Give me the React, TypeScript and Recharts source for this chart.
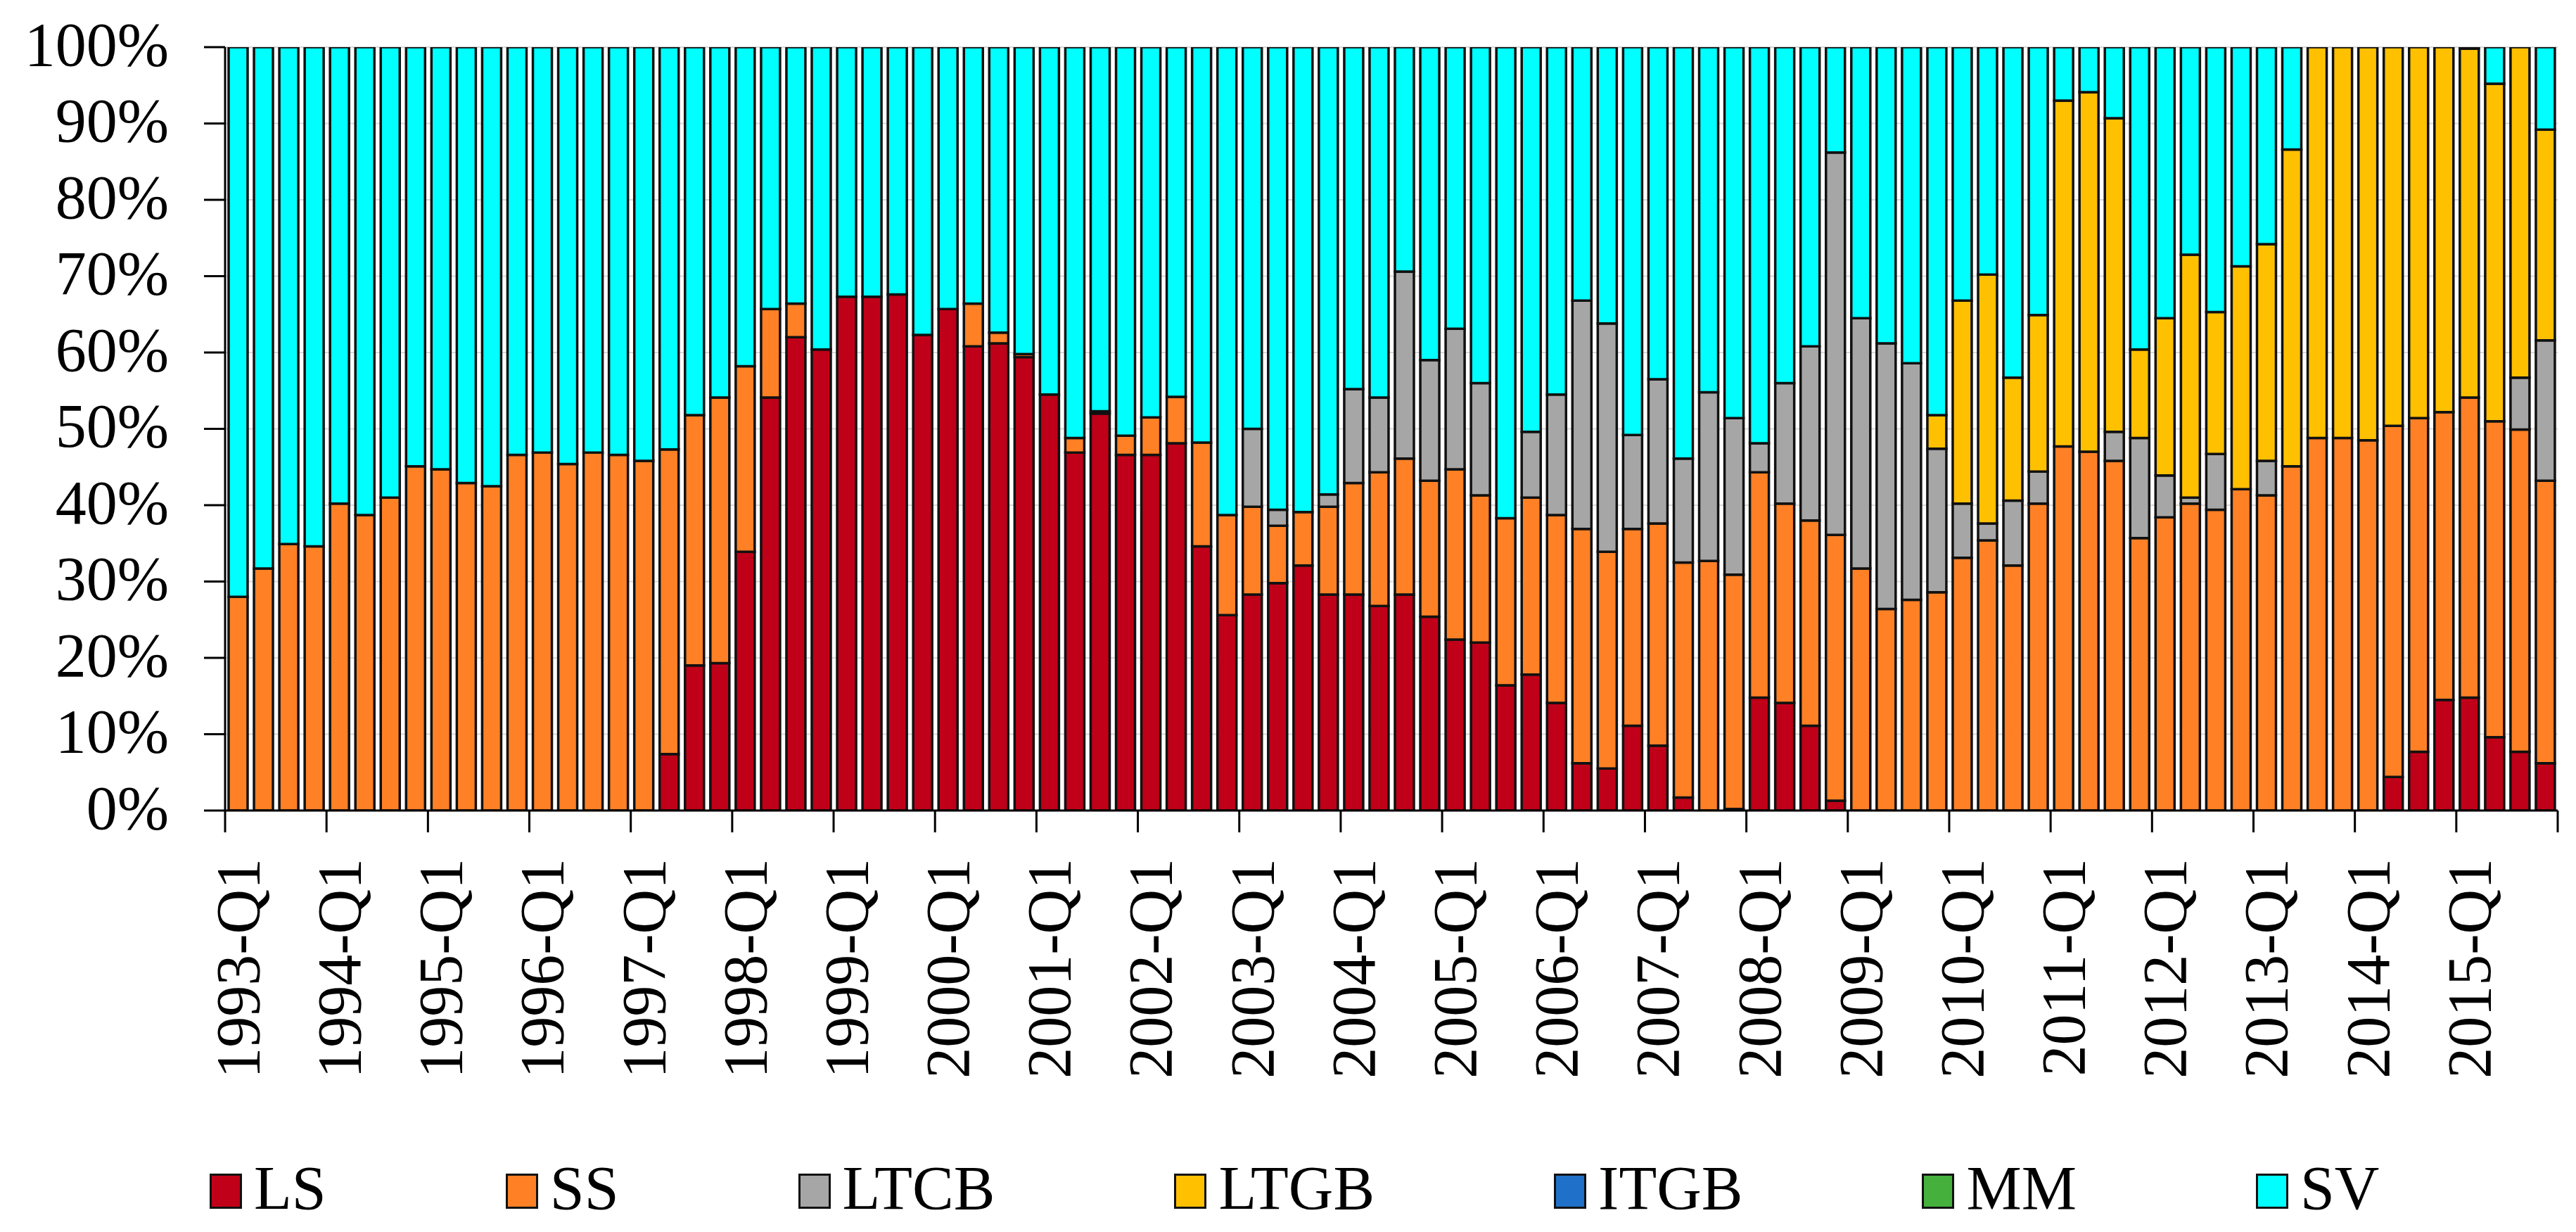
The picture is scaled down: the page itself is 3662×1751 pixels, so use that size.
import React from 'react';
import { BarChart, Bar, XAxis, YAxis, CartesianGrid, Legend } from 'recharts';

const QUARTERS = [
  '1993-Q1', '1993-Q2', '1993-Q3', '1993-Q4',
  '1994-Q1', '1994-Q2', '1994-Q3', '1994-Q4',
  '1995-Q1', '1995-Q2', '1995-Q3', '1995-Q4',
  '1996-Q1', '1996-Q2', '1996-Q3', '1996-Q4',
  '1997-Q1', '1997-Q2', '1997-Q3', '1997-Q4',
  '1998-Q1', '1998-Q2', '1998-Q3', '1998-Q4',
  '1999-Q1', '1999-Q2', '1999-Q3', '1999-Q4',
  '2000-Q1', '2000-Q2', '2000-Q3', '2000-Q4',
  '2001-Q1', '2001-Q2', '2001-Q3', '2001-Q4',
  '2002-Q1', '2002-Q2', '2002-Q3', '2002-Q4',
  '2003-Q1', '2003-Q2', '2003-Q3', '2003-Q4',
  '2004-Q1', '2004-Q2', '2004-Q3', '2004-Q4',
  '2005-Q1', '2005-Q2', '2005-Q3', '2005-Q4',
  '2006-Q1', '2006-Q2', '2006-Q3', '2006-Q4',
  '2007-Q1', '2007-Q2', '2007-Q3', '2007-Q4',
  '2008-Q1', '2008-Q2', '2008-Q3', '2008-Q4',
  '2009-Q1', '2009-Q2', '2009-Q3', '2009-Q4',
  '2010-Q1', '2010-Q2', '2010-Q3', '2010-Q4',
  '2011-Q1', '2011-Q2', '2011-Q3', '2011-Q4',
  '2012-Q1', '2012-Q2', '2012-Q3', '2012-Q4',
  '2013-Q1', '2013-Q2', '2013-Q3', '2013-Q4',
  '2014-Q1', '2014-Q2', '2014-Q3', '2014-Q4',
  '2015-Q1', '2015-Q2', '2015-Q3', '2015-Q4',
];

const LS = [
  0, 0, 0, 0, 0, 0, 0, 0, 0, 0, 0, 0, 0, 0, 0, 0,
  0, 7.4, 19.0, 19.3,
  33.9, 54.1, 62.0, 60.4,
  67.3, 67.3, 67.6, 62.3,
  65.7, 60.8, 61.2, 59.4,
  54.5, 46.9, 52.0, 46.6,
  46.6, 48.1, 34.6, 25.6,
  28.3, 29.8, 32.1, 28.3,
  28.3, 26.8, 28.3, 25.4,
  22.4, 22.0, 16.4, 17.8,
  14.1, 6.2, 5.5, 11.1,
  8.5, 1.7, 0, 0.2,
  14.8, 14.1, 11.1, 1.3,
  0, 0, 0, 0,
  0, 0, 0, 0,
  0, 0, 0, 0,
  0, 0, 0, 0,
  0, 0, 0, 0,
  0, 4.4, 7.7, 14.5,
  14.8, 9.6, 7.7, 6.2,
];

const SS = [
  28.0, 31.7, 34.9, 34.6,
  40.2, 38.7, 41.0, 45.1,
  44.7, 42.9, 42.5, 46.6,
  46.9, 45.4, 46.9, 46.6,
  45.8, 39.9, 32.8, 34.8,
  24.3, 11.6, 4.4, 0,
  0, 0, 0, 0,
  0, 5.6, 1.4, 0.4,
  0, 1.9, 0.3, 2.5,
  4.9, 6.1, 13.6, 13.1,
  11.5, 7.5, 7.0, 11.5,
  14.6, 17.5, 17.8, 17.8,
  22.3, 19.3, 21.9, 23.2,
  24.6, 30.7, 28.4, 25.8,
  29.1, 30.8, 32.7, 30.7,
  29.5, 26.1, 26.9, 34.8,
  31.7, 26.4, 27.6, 28.6,
  33.1, 35.4, 32.1, 40.2,
  47.7, 47.0, 45.8, 35.7,
  38.4, 40.2, 39.4, 42.1,
  41.3, 45.1, 48.8, 48.8,
  48.5, 46.0, 43.7, 37.7,
  39.3, 41.4, 42.2, 37.0,
];

const LTCB = [
  0, 0, 0, 0, 0, 0, 0, 0, 0, 0, 0, 0, 0, 0, 0, 0, 0, 0, 0, 0,
  0, 0, 0, 0, 0, 0, 0, 0, 0, 0, 0, 0, 0, 0, 0, 0, 0, 0, 0, 0,
  10.2, 2.1, 0, 1.6,
  12.3, 9.8, 24.5, 15.8,
  18.4, 14.7, 0, 8.6,
  15.8, 29.9, 29.9, 12.3,
  18.9, 13.6, 22.1, 20.5,
  3.8, 15.8, 22.8, 50.1,
  32.8, 34.8, 31.0, 18.8,
  7.1, 2.2, 8.5, 4.2,
  0, 0, 3.8, 13.1,
  5.5, 0.8, 7.3, 0,
  4.5, 0, 0, 0,
  0, 0, 0, 0,
  0, 0, 6.8, 18.4,
];

const LTGB = [
  0, 0, 0, 0, 0, 0, 0, 0, 0, 0, 0, 0, 0, 0, 0, 0, 0, 0, 0, 0,
  0, 0, 0, 0, 0, 0, 0, 0, 0, 0, 0, 0, 0, 0, 0, 0, 0, 0, 0, 0,
  0, 0, 0, 0, 0, 0, 0, 0, 0, 0, 0, 0, 0, 0, 0, 0, 0, 0, 0, 0,
  0, 0, 0, 0, 0, 0, 0, 4.4,
  26.6, 32.6, 16.1, 20.5,
  45.3, 47.1, 41.1, 11.6,
  20.6, 31.8, 18.6, 29.2,
  28.4, 41.5, 51.2, 51.2,
  51.5, 49.6, 48.6, 47.8,
  45.7, 44.2, 43.3, 27.6,
];

const ITGB = [
  0, 0, 0, 0, 0, 0, 0, 0, 0, 0, 0, 0, 0, 0, 0, 0, 0, 0, 0, 0, 0, 0, 0,
  0, 0, 0, 0, 0, 0, 0, 0, 0, 0, 0, 0, 0, 0, 0, 0, 0, 0, 0, 0, 0, 0, 0,
  0, 0, 0, 0, 0, 0, 0, 0, 0, 0, 0, 0, 0, 0, 0, 0, 0, 0, 0, 0, 0, 0, 0,
  0, 0, 0, 0, 0, 0, 0, 0, 0, 0, 0, 0, 0, 0, 0, 0, 0, 0, 0, 0, 0, 0, 0,
];

const MM = [
  0, 0, 0, 0, 0, 0, 0, 0, 0, 0, 0, 0, 0, 0, 0, 0, 0, 0, 0, 0, 0, 0, 0,
  0, 0, 0, 0, 0, 0, 0, 0, 0, 0, 0, 0, 0, 0, 0, 0, 0, 0, 0, 0, 0, 0, 0,
  0, 0, 0, 0, 0, 0, 0, 0, 0, 0, 0, 0, 0, 0, 0, 0, 0, 0, 0, 0, 0, 0, 0,
  0, 0, 0, 0, 0, 0, 0, 0, 0, 0, 0, 0, 0, 0, 0, 0, 0, 0, 0, 0, 0, 0, 0,
];

const SV = [
  72.0, 68.3, 65.1, 65.4,
  59.8, 61.3, 59.0, 54.9,
  55.3, 57.1, 57.5, 53.4,
  53.1, 54.6, 53.1, 53.4,
  54.2, 52.7, 48.2, 45.9,
  41.8, 34.3, 33.6, 39.6,
  32.7, 32.7, 32.4, 37.7,
  34.3, 33.6, 37.4, 40.2,
  45.5, 51.2, 47.7, 50.9,
  48.5, 45.8, 51.8, 61.3,
  50.0, 60.6, 60.9, 58.6,
  44.8, 45.9, 29.4, 41.0,
  36.9, 44.0, 61.7, 50.4,
  45.5, 33.2, 36.2, 50.8,
  43.5, 53.9, 45.2, 48.6,
  51.9, 44.0, 39.2, 13.8,
  35.5, 38.8, 41.4, 48.2,
  33.2, 29.8, 43.3, 35.1,
  7.0, 5.9, 9.3, 39.6,
  35.5, 27.2, 34.7, 28.7,
  25.8, 13.4, 0, 0,
  0, 0, 0, 0,
  0.2, 4.8, 0, 10.8,
];

const Y_TICKS = [0, 10, 20, 30, 40, 50, 60, 70, 80, 90, 100];

const SERIES = [
  { key: 'LS', name: 'LS', color: '#C00018' },
  { key: 'SS', name: 'SS', color: '#FF8025' },
  { key: 'LTCB', name: 'LTCB', color: '#A6A6A6' },
  { key: 'LTGB', name: 'LTGB', color: '#FFC000' },
  { key: 'ITGB', name: 'ITGB', color: '#1F70C8' },
  { key: 'MM', name: 'MM', color: '#45B03C' },
  { key: 'SV', name: 'SV', color: '#00FFFF' },
];
const SERIES_ORDER = SERIES.map((s) => s.key);

const data = QUARTERS.map((q, i) => ({
  q,
  LS: LS[i],
  SS: SS[i],
  LTCB: LTCB[i],
  LTGB: LTGB[i],
  ITGB: ITGB[i],
  MM: MM[i],
  SV: SV[i],
}));

const FONT = '"Liberation Serif", "Times New Roman", serif';
const FONT_SIZE = 88;
const CHART_W = 3662;
const CHART_H = 1751;
const MARGIN = { top: 67, right: 26, left: 0, bottom: 18 };
const Y_AXIS_W = 320;
const LEGEND_H = 88;
const X_AXIS_H = CHART_H - 1152 - MARGIN.bottom - LEGEND_H;
const BAND = (CHART_W - MARGIN.left - Y_AXIS_W - MARGIN.right) / QUARTERS.length;

const XTick = (props: any) => {
  const { x, y, payload } = props;
  const half = BAND / 2;
  const isLast = payload.value === QUARTERS[QUARTERS.length - 4];
  const ty = y + 68;
  return (
    <g>
      <line x1={x - half} x2={x - half} y1={y} y2={y + 31} stroke="#000" strokeWidth={3} />
      {isLast && (
        <line x1={x - half + 4 * BAND} x2={x - half + 4 * BAND} y1={y} y2={y + 31} stroke="#000" strokeWidth={3} />
      )}
      <text
        x={x}
        y={ty}
        transform={`rotate(-90, ${x}, ${ty})`}
        textAnchor="end"
        dy="0.34em"
        fontFamily={FONT}
        fontSize={FONT_SIZE}
        fill="#000"
      >
        {payload.value}
      </text>
    </g>
  );
};

const YTick = (props: any) => {
  const { x, y, payload } = props;
  return (
    <text x={x} y={y} textAnchor="end" dy="0.29em" fontFamily={FONT} fontSize={FONT_SIZE} fill="#000">
      {`${payload.value}%`}
    </text>
  );
};

const LegendContent = (props: any) => {
  const items = [...(props.payload || [])].sort(
    (a: any, b: any) => SERIES_ORDER.indexOf(a.dataKey) - SERIES_ORDER.indexOf(b.dataKey)
  );
  return (
    <div
      style={{
        display: 'flex',
        alignItems: 'baseline',
        paddingLeft: 298,
        height: LEGEND_H,
        fontFamily: FONT,
        fontSize: FONT_SIZE,
        lineHeight: `${LEGEND_H}px`,
        color: '#000',
        whiteSpace: 'nowrap',
      }}
    >
      {items.map((p: any, i: number) => (
        <div key={i} style={{ display: 'flex', alignItems: 'baseline', marginRight: 255 }}>
          <span
            style={{
              display: 'inline-block',
              width: 46,
              height: 50,
              background: p.color,
              border: '3px solid #111',
              boxSizing: 'border-box',
              marginRight: 17,
            }}
          />
          <span>{p.value}</span>
        </div>
      ))}
    </div>
  );
};

export default function App() {
  return (
    <div style={{ width: CHART_W, height: CHART_H, background: '#fff' }}>
      <style>{'body{margin:0;background:#fff;}'}</style>
      <BarChart width={CHART_W} height={CHART_H} data={data} margin={MARGIN} barSize={27}>
        <CartesianGrid horizontal vertical={false} stroke="#d9d9d9" strokeWidth={2} />
        <XAxis
          dataKey="q"
          interval={3}
          tickLine={false}
          tickSize={0}
          tickMargin={0}
          axisLine={{ stroke: '#000', strokeWidth: 3 }}
          height={X_AXIS_H}
          tick={<XTick />}
        />
        <YAxis
          width={Y_AXIS_W}
          domain={[0, 100]}
          ticks={Y_TICKS}
          allowDataOverflow
          tickSize={30}
          tickMargin={50}
          axisLine={{ stroke: '#000', strokeWidth: 3 }}
          tickLine={{ stroke: '#000', strokeWidth: 3 }}
          tick={<YTick />}
        />
        <Legend
          verticalAlign="bottom"
          content={<LegendContent />}
          wrapperStyle={{ left: 0, width: CHART_W }}
        />
        {SERIES.map((s) => (
          <Bar
            key={s.key}
            dataKey={s.key}
            name={s.name}
            stackId="a"
            fill={s.color}
            stroke="#111"
            strokeWidth={3.5}
            isAnimationActive={false}
          />
        ))}
      </BarChart>
    </div>
  );
}
